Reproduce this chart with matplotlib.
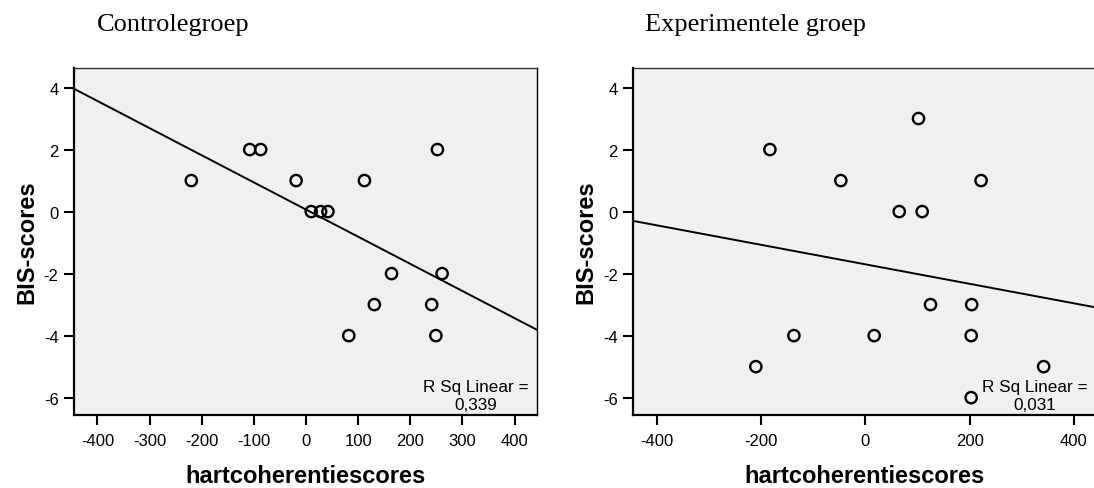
import numpy as np
import matplotlib
matplotlib.use("Agg")
import matplotlib.pyplot as plt

# ---- data ----
control_x = [-220, -108, -87, -19, 10, 28, 42, 112, 252, 164, 261, 131, 241, 82, 249]
control_y = [1, 2, 2, 1, 0, 0, 0, 1, 2, -2, -2, -3, -3, -4, -4]
control_r2 = "0,339"

exp_x = [-210, -183, -137, -47, 17, 65, 102, 109, 125, 204, 222, 203, 203, 342]
exp_y = [-5, 2, -4, 1, -4, 0, 3, 0, -3, -3, 1, -4, -6, -5]
exp_r2 = "0,031"

titles = ["Controlegroep", "Experimentele groep"]
xlabel = "hartcoherentiescores"
ylabel = "BIS-scores"
left_xticks = [-400, -300, -200, -100, 0, 100, 200, 300, 400]
right_xticks = [-400, -200, 0, 200, 400]
yticks = [-6, -4, -2, 0, 2, 4]

W, H = 1094, 489
fig = plt.figure(figsize=(W / 100, H / 100), dpi=100)

sans = "Liberation Sans"
serif = "Liberation Serif"

def px_axes(x0, y0, x1, y1):
    return fig.add_axes([x0 / W, 1 - y1 / H, (x1 - x0) / W, (y1 - y0) / H])

panels = [
    (px_axes(74, 69.3, 536.5, 415.7), control_x, control_y, control_r2, left_xticks, (97, 30.7), titles[0]),
    (px_axes(633.3, 69.3, 1095.8, 415.7), exp_x, exp_y, exp_r2, right_xticks, (645, 30.7), titles[1]),
]

for ax, xs, ys, r2, xt, tpos, title in panels:
    xlim = (-445, 442)
    ax.set_xlim(*xlim)
    ax.set_ylim(-6.55, 4.62)
    ax.set_facecolor("#f0f0f0")
    ax.scatter(xs, ys, s=66, facecolors="none", edgecolors="black", linewidths=1.7, zorder=3, clip_on=False)
    slope, icpt = np.polyfit(xs, ys, 1)
    lx = np.array(xlim)
    ax.plot(lx, slope * lx + icpt, color="black", lw=1.4, zorder=2)
    ax.set_xticks(xt)
    ax.set_yticks(yticks)
    ax.set_xticklabels([str(v) for v in xt], fontfamily=sans, fontsize=12)
    ax.set_yticklabels([str(v) for v in yticks], fontfamily=sans, fontsize=12)
    ax.tick_params(axis="both", direction="out", length=7.5, width=1.5, color="black")
    ax.tick_params(axis="x", pad=5.5)
    ax.tick_params(axis="y", pad=3.6)
    for side in ["left", "bottom"]:
        ax.spines[side].set_linewidth(1.6)
        ax.spines[side].set_color("black")
    ax.spines["right"].set_linewidth(1.0)
    ax.spines["top"].set_linewidth(1.0)
    ax.spines["top"].set_color("#333333")
    ax.set_xlabel(xlabel, fontfamily=sans, fontsize=17, fontweight="bold")
    ax.set_ylabel(ylabel, fontfamily=sans, fontsize=17, fontweight="bold")
    ax.xaxis.set_label_coords(0.5, -0.142)
    ax.yaxis.set_label_coords(-0.078, 0.5)
    ax.text(0.868, 0.0684, "R Sq Linear =", transform=ax.transAxes, ha="center",
            va="baseline", fontfamily=sans, fontsize=12.3, zorder=4)
    ax.text(0.868, 0.0165, r2, transform=ax.transAxes, ha="center",
            va="baseline", fontfamily=sans, fontsize=12.3, zorder=4)
    fig.text(tpos[0] / W, 1 - tpos[1] / H, title, fontfamily=serif, fontsize=19,
             ha="left", va="baseline")

fig.savefig("out.png", dpi=100)
